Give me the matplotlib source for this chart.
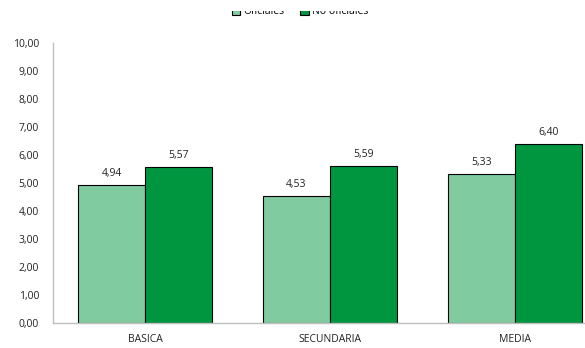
import numpy as np
import matplotlib
matplotlib.use("Agg")
import matplotlib.pyplot as plt
from matplotlib.patches import Rectangle

categorias = ["BASICA", "SECUNDARIA", "MEDIA"]
oficiales = [4.94, 4.53, 5.33]
no_oficiales = [5.57, 5.59, 6.40]
series = ["Oficiales", "No oficiales"]
colores = ["#80CBA0", "#009640"]

plt.rcParams['font.family'] = ['Open Sans', 'DejaVu Sans']

W, H = 585, 348
fig = plt.figure(figsize=(W / 100, H / 100), dpi=100)
# axes extend past the right edge (reference is cropped)
ax = fig.add_axes([53 / W, 1 - 323 / H, (607 - 53) / W, (323 - 43) / H])

x = np.arange(len(categorias))
w = 0.363
b1 = ax.bar(x - w / 2, oficiales, w, color=colores[0], edgecolor="black", linewidth=0.8, label=series[0])
b2 = ax.bar(x + w / 2, no_oficiales, w, color=colores[1], edgecolor="black", linewidth=0.8, label=series[1])

def fmt(v):
    return f"{v:.2f}".replace(".", ",")

for bars, vals in [(b1, oficiales), (b2, no_oficiales)]:
    for r, v in zip(bars, vals):
        ax.text(r.get_x() + r.get_width() / 2, v + 0.22, fmt(v),
                ha="center", va="bottom", fontsize=7.5, color="#222222")

ax.set_xlim(-0.5, 2.5)
ax.set_ylim(0, 10)
ax.set_yticks(np.arange(0, 11, 1))
ax.set_yticklabels([fmt(v) for v in range(11)], fontsize=7.5)
ax.set_xticks(x)
ax.set_xticklabels(categorias, fontsize=7.5)
ax.tick_params(length=0, pad=10, colors="#222222")
ax.tick_params(axis="x", pad=8)
for s in ["top", "right"]:
    ax.spines[s].set_visible(False)
for s in ["left", "bottom"]:
    ax.spines[s].set_color("#BFBFBF")
    ax.spines[s].set_linewidth(1.0)

fig.legend(handles=[b1, b2], labels=series, loc="center",
           bbox_to_anchor=(300 / W, 1 - 12 / H), ncol=2, frameon=False,
           fontsize=7.5, handlelength=0.8, handleheight=0.8, columnspacing=1.5,
           handletextpad=0.3)
# top strip of the reference is cut off over the legend
fig.patches.append(Rectangle((0, 1 - 11 / H), 1, 11 / H, transform=fig.transFigure,
                             facecolor="white", edgecolor="none", zorder=10))

fig.savefig("out.png", dpi=100)
